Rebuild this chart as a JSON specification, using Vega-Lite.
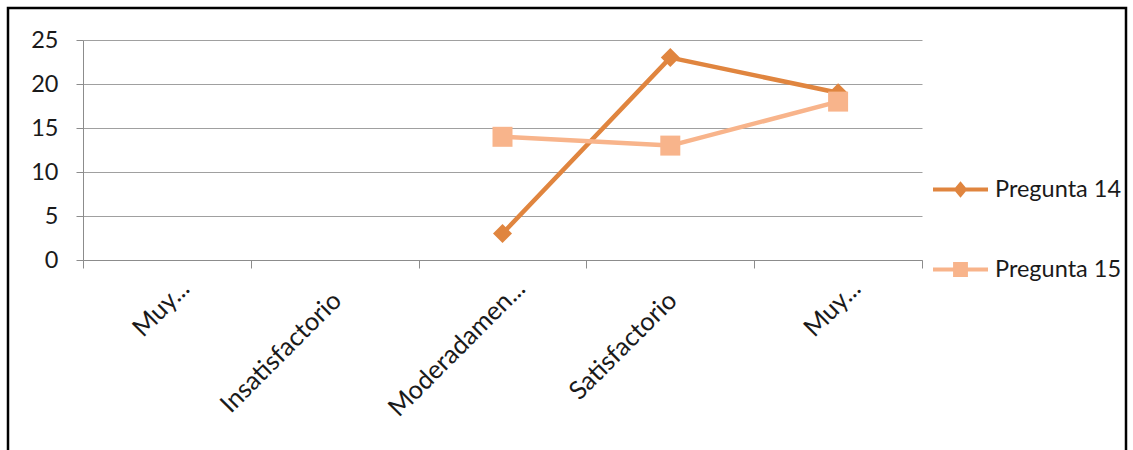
{
  "$schema": "https://vega.github.io/schema/vega-lite/v6.json",
  "width": 839,
  "height": 220,
  "autosize": {"type": "none"},
  "padding": {"left": 83, "top": 40, "right": 211, "bottom": 190},
  "background": "white",
  "config": {
    "view": {"stroke": null},
    "font": "Lato",
    "axis": {"labelFont": "Lato", "labelFontSize": 23.5, "labelColor": "#1a1a1a"}
  },
  "layer": [
    {
      "data": {"values": [{}]},
      "mark": {
        "type": "rect",
        "x": -75,
        "y": -32,
        "x2": {"expr": "width + 204"},
        "y2": {"expr": "height + 230"},
        "fill": "transparent",
        "stroke": "#000000",
        "strokeWidth": 2.5,
        "clip": false
      },
      "encoding": {}
    },
    {
      "data": {
        "values": [
          {"serie": "Pregunta 14", "categoria": "Moderadamente satisfactorio", "valor": 3},
          {"serie": "Pregunta 14", "categoria": "Satisfactorio", "valor": 23},
          {"serie": "Pregunta 14", "categoria": "Muy satisfactorio", "valor": 19},
          {"serie": "Pregunta 15", "categoria": "Moderadamente satisfactorio", "valor": 14},
          {"serie": "Pregunta 15", "categoria": "Satisfactorio", "valor": 13},
          {"serie": "Pregunta 15", "categoria": "Muy satisfactorio", "valor": 18}
        ]
      },
      "encoding": {
        "x": {
          "field": "categoria",
          "type": "nominal",
          "sort": null,
          "scale": {
            "type": "band",
            "domain": ["Muy insatisfactorio", "Insatisfactorio", "Moderadamente satisfactorio", "Satisfactorio", "Muy satisfactorio"],
            "paddingInner": 0,
            "paddingOuter": 0
          },
          "axis": {
            "title": null,
            "tickBand": "extent",
            "grid": false,
            "domainColor": "#8c8c8c",
            "tickColor": "#8c8c8c",
            "tickSize": 8,
            "labelFontSize": 25.5,
            "labelLimit": 0,
            "labelAngle": -45,
            "labelAlign": "right",
            "labelBaseline": "middle",
            "labelPadding": {"condition": {"test": "datum.value !== 'Insatisfactorio' && datum.value !== 'Satisfactorio'", "value": 16}, "value": 28},
            "labelOffset": {"condition": {"test": "datum.value !== 'Insatisfactorio' && datum.value !== 'Satisfactorio'", "value": 18}, "value": 2},
            "labelExpr": "datum.value === 'Muy insatisfactorio' || datum.value === 'Muy satisfactorio' ? 'Muy...' : datum.value === 'Moderadamente satisfactorio' ? 'Moderadamen...' : datum.value"
          }
        },
        "y": {
          "field": "valor",
          "type": "quantitative",
          "scale": {"domain": [0, 25], "nice": false},
          "axis": {
            "title": null,
            "values": [0, 5, 10, 15, 20, 25],
            "gridColor": "#a0a0a0",
            "gridWidth": 1,
            "domainColor": "#8c8c8c",
            "tickColor": "#8c8c8c",
            "tickSize": 7,
            "labelPadding": 18
          }
        },
        "color": {
          "field": "serie",
          "type": "nominal",
          "scale": {"domain": ["Pregunta 14", "Pregunta 15"], "range": ["#e0853f", "#f8b48b"]},
          "legend": {
            "title": null,
            "orient": "none",
            "legendX": 850,
            "legendY": 122,
            "direction": "vertical",
            "padding": 0,
            "rowPadding": 41,
            "symbolSize": 3025,
            "symbolStrokeWidth": 0,
            "symbolOpacity": 1,
            "labelFont": "Lato",
            "labelFontSize": 23.5,
            "labelColor": "#1a1a1a",
            "labelOffset": 7
          }
        }
      },
      "layer": [
        {
          "mark": {"type": "line", "strokeWidth": 4.5, "strokeJoin": "round"}
        },
        {
          "transform": [{"filter": "datum.serie === 'Pregunta 14'"}],
          "mark": {"type": "point", "filled": true, "opacity": 1, "shape": "diamond", "size": 361}
        },
        {
          "transform": [{"filter": "datum.serie === 'Pregunta 15'"}],
          "mark": {"type": "point", "filled": true, "opacity": 1, "shape": "square", "size": 400}
        },
        {
          "transform": [{"filter": "false"}],
          "mark": {"type": "point", "filled": true, "opacity": 1, "size": 3025},
          "encoding": {
            "shape": {
              "field": "serie",
              "type": "nominal",
              "scale": {
                "domain": ["Pregunta 14", "Pregunta 15"],
                "range": [
                  "M-1,-0.075H1V0.075H-1Z M0,-0.3L0.25,0L0,0.3L-0.25,0Z",
                  "M-1,-0.075H1V0.075H-1Z M-0.27,-0.27H0.27V0.27H-0.27Z"
                ]
              },
              "legend": {
                "title": null,
                "orient": "none",
                "legendX": 850,
                "legendY": 122,
                "direction": "vertical",
                "padding": 0,
                "rowPadding": 41,
                "symbolSize": 3025,
                "symbolStrokeWidth": 0,
                "symbolOpacity": 1,
                "labelFont": "Lato",
                "labelFontSize": 23.5,
                "labelColor": "#1a1a1a",
                "labelOffset": 7
              }
            }
          }
        }
      ]
    }
  ]
}
